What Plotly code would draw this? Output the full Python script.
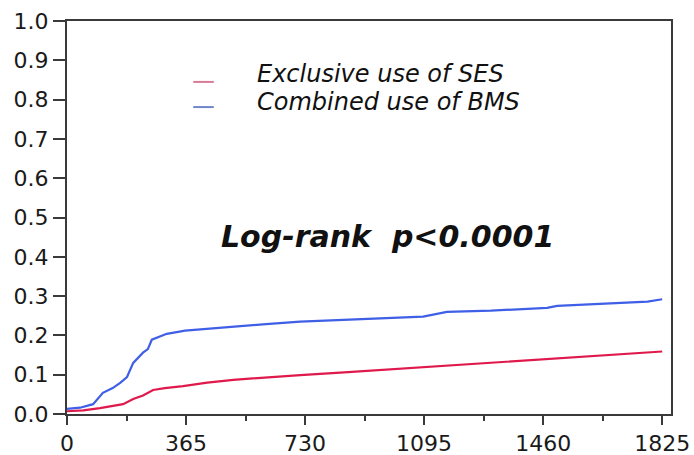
import plotly.graph_objects as go

# Cumulative event rate by follow-up day
days_ses = [0, 50, 101, 140, 172, 203, 233, 264, 300, 356, 430, 510, 600, 715, 850, 1000, 1092, 1250, 1472, 1650, 1825]
rate_ses = [0.007, 0.009, 0.015, 0.021, 0.025, 0.038, 0.047, 0.061, 0.066, 0.071, 0.080, 0.087, 0.093, 0.099, 0.106, 0.114, 0.120, 0.128, 0.140, 0.150, 0.159]

days_bms = [0, 40, 80, 95, 110, 140, 163, 184, 203, 233, 248, 260, 280, 306, 362, 430, 510, 600, 715, 850, 1000, 1092, 1165, 1300, 1472, 1503, 1650, 1780, 1825]
rate_bms = [0.013, 0.016, 0.025, 0.040, 0.054, 0.066, 0.079, 0.094, 0.130, 0.156, 0.165, 0.189, 0.196, 0.204, 0.212, 0.217, 0.222, 0.228, 0.235, 0.240, 0.244, 0.248, 0.260, 0.263, 0.270, 0.275, 0.281, 0.286, 0.292]

x_ticks = [0, 365, 730, 1095, 1460, 1825]
y_ticks = [0.0, 0.1, 0.2, 0.3, 0.4, 0.5, 0.6, 0.7, 0.8, 0.9, 1.0]

series_names = ["Exclusive use of SES", "Combined use of BMS"]
line_colors = ["#e0194c", "#3f5fe6"]
swatch_colors = ["#d97a94", "#6f86c8"]
stat_text = "Log-rank&nbsp;&nbsp;p<0.0001"

fig = go.Figure()
fig.add_trace(go.Scatter(x=days_ses, y=rate_ses, mode="lines",
                         line=dict(color=line_colors[0], width=2.2), name=series_names[0]))
fig.add_trace(go.Scatter(x=days_bms, y=rate_bms, mode="lines",
                         line=dict(color=line_colors[1], width=2.2), name=series_names[1]))

axis_common = dict(showgrid=False, zeroline=False, showline=True, linecolor="#3a3a3a",
                   linewidth=2, mirror=True, ticks="outside", tickcolor="#3a3a3a",
                   tickwidth=2, automargin=False,
                   tickfont=dict(family="DejaVu Sans", size=22, color="#1a1a1a"))

fig.update_xaxes(range=[0, 1852], tickvals=x_ticks, ticktext=[str(v) for v in x_ticks],
                 ticklen=9, minor=dict(ticks="outside", dtick=182.5, tick0=0, ticklen=5,
                                       tickcolor="#3a3a3a", tickwidth=2),
                 **axis_common)
fig.update_yaxes(range=[0, 1.0], tickvals=y_ticks, ticktext=[f"{v:.1f}" for v in y_ticks],
                 ticklen=12, **axis_common)

# Hand-drawn legend
legend_y_line = [0.845, 0.781]
legend_y_text = [0.864, 0.795]
for i in range(2):
    fig.add_shape(type="line", xref="paper", yref="paper", x0=0.209, x1=0.243,
                  y0=legend_y_line[i], y1=legend_y_line[i],
                  line=dict(color=swatch_colors[i], width=2))
    fig.add_annotation(xref="paper", yref="paper", x=0.311, y=legend_y_text[i],
                       xanchor="left", yanchor="middle", showarrow=False,
                       text=f"<i>{series_names[i]}</i>",
                       font=dict(family="DejaVu Sans", size=24, color="#111"))

fig.add_annotation(xref="paper", yref="paper", x=0.531, y=0.452, xanchor="center",
                   yanchor="middle", showarrow=False, text=f"<b><i>{stat_text}</i></b>",
                   font=dict(family="DejaVu Sans", size=30, color="#111"))

fig.update_layout(width=694, height=455, margin=dict(l=67, r=23, t=21, b=41),
                  plot_bgcolor="white", paper_bgcolor="white", showlegend=False)

fig.write_html("out.html")
